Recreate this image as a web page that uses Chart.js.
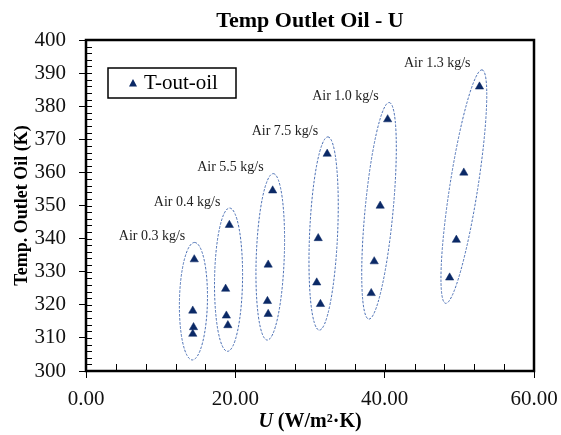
<!DOCTYPE html>
<html>
<head>
<meta charset="utf-8">
<script src="https://cdn.jsdelivr.net/npm/chart.js@4"></script>
<style>
  html, body { margin: 0; padding: 0; background: #fff; }
  #wrap { width: 561px; height: 435px; }
</style>
</head>
<body>
<div id="wrap"><canvas id="chart1"></canvas></div>
<script>
// air flow groups, as labelled in the figure
const groupLabels = ["Air 0.3 kg/s", "Air 0.4 kg/s", "Air 5.5 kg/s", "Air 7.5 kg/s", "Air 1.0 kg/s", "Air 1.3 kg/s"];
// overall heat transfer coefficient U (W/m2.K), one list per group
const uValues = [
  [14.5, 14.3, 14.4, 14.3],
  [19.2, 18.7, 18.8, 19.0],
  [25.0, 24.4, 24.3, 24.4],
  [32.3, 31.1, 30.9, 31.4],
  [40.4, 39.4, 38.6, 38.2],
  [52.7, 50.6, 49.6, 48.7]
];
// outlet oil temperature (K)
const tOutOil = [
  [333.7, 318.2, 313.2, 311.2],
  [344.1, 324.8, 316.7, 313.8],
  [354.5, 332.1, 321.1, 317.2],
  [365.6, 340.1, 326.7, 320.2],
  [376.0, 349.9, 333.1, 323.5],
  [385.9, 359.9, 339.6, 328.2]
];
const xTicks = [0, 20, 40, 60];
const yTicks = [300, 310, 320, 330, 340, 350, 360, 370, 380, 390, 400];

const serif = "'Liberation Serif', 'Times New Roman', serif";
const navy = "#0b2966";

const points = [];
uValues.forEach((us, g) => us.forEach((u, i) => points.push({ x: u, y: tOutOil[g][i] })));

// frame, inner minor ticks, ellipses, group labels, legend, x title
const decor = {
  id: "decor",
  afterDatasetsDraw(chart) {
    const { ctx, chartArea: a, scales: { x, y } } = chart;
    ctx.save();

    // ellipses round each air-flow group + their labels
    uValues.forEach((us, g) => {
      const pts = us.map((u, i) => ({ x: x.getPixelForValue(u), y: y.getPixelForValue(tOutOil[g][i]) }));
      const top = pts.reduce((p, q) => (q.y < p.y ? q : p));
      const bot = pts.reduce((p, q) => (q.y > p.y ? q : p));
      let dx = top.x - bot.x, dy = top.y - bot.y;
      const len = Math.hypot(dx, dy);
      dx /= len; dy /= len;
      const ax = top.x + dx * 17, ay = top.y + dy * 17;
      const bx = bot.x - dx * 26, by = bot.y - dy * 26;
      ctx.beginPath();
      ctx.setLineDash([2.5, 1.5]);
      ctx.strokeStyle = "#4a6fb5";
      ctx.lineWidth = 1;
      ctx.ellipse((ax + bx) / 2, (ay + by) / 2, Math.hypot(ax - bx, ay - by) / 2, 14, Math.atan2(ay - by, ax - bx), 0, Math.PI * 2);
      ctx.stroke();
      ctx.setLineDash([]);
      ctx.fillStyle = "#222";
      ctx.font = "14px " + serif;
      ctx.textAlign = "right";
      ctx.textBaseline = "middle";
      ctx.fillText(groupLabels[g], top.x - 9, top.y - 23);
    });

    // minor ticks pointing into the plot
    ctx.strokeStyle = "#000";
    ctx.lineWidth = 1;
    for (let v = 300; v <= 400; v += 2) {
      const py = Math.round(y.getPixelForValue(v)) + 0.5;
      ctx.beginPath(); ctx.moveTo(a.left, py); ctx.lineTo(a.left + 6, py); ctx.stroke();
    }
    for (let v = 0; v <= 60; v += 4) {
      const px = Math.round(x.getPixelForValue(v)) + 0.5;
      ctx.beginPath(); ctx.moveTo(px, a.bottom); ctx.lineTo(px, a.bottom - 7); ctx.stroke();
    }

    // plot frame
    ctx.lineWidth = 2.5;
    ctx.strokeRect(a.left, a.top, a.right - a.left, a.bottom - a.top);

    // legend box
    const lx = a.left + 22, ly = a.top + 28;
    ctx.lineWidth = 1.5;
    ctx.fillStyle = "#fff";
    ctx.fillRect(lx, ly, 128, 30);
    ctx.strokeRect(lx, ly, 128, 30);
    ctx.fillStyle = navy;
    ctx.beginPath();
    ctx.moveTo(lx + 25, ly + 11);
    ctx.lineTo(lx + 29, ly + 18.5);
    ctx.lineTo(lx + 21, ly + 18.5);
    ctx.closePath();
    ctx.fill();
    ctx.fillStyle = "#000";
    ctx.font = "21px " + serif;
    ctx.textAlign = "left";
    ctx.textBaseline = "middle";
    ctx.fillText(chart.data.datasets[0].label, lx + 36, ly + 15.5);

    // x axis title: italic U + bold units
    const cx = (a.left + a.right) / 2, ty = 422;
    const partA = "U", partB = " (W/m²·K)";
    ctx.font = "italic bold 20px " + serif;
    const wA = ctx.measureText(partA).width;
    ctx.font = "bold 20px " + serif;
    const wB = ctx.measureText(partB).width;
    const sx = cx - (wA + wB) / 2;
    ctx.font = "italic bold 20px " + serif;
    ctx.fillText(partA, sx, ty);
    ctx.font = "bold 20px " + serif;
    ctx.fillText(partB, sx + wA, ty);

    ctx.restore();
  }
};

const whiteBg = {
  id: "whiteBg",
  beforeDraw(chart) {
    const { ctx, width, height } = chart;
    ctx.save();
    ctx.fillStyle = "#fff";
    ctx.fillRect(0, 0, width, height);
    ctx.restore();
  }
};

const ctx1 = document.getElementById("chart1").getContext("2d");
new Chart(ctx1, {
  type: "scatter",
  data: {
    datasets: [
      {
        label: "T-out-oil",
        data: points,
        pointStyle: "triangle",
        pointRadius: 4.8,
        pointHoverRadius: 4.8,
        backgroundColor: navy,
        borderColor: navy,
        borderWidth: 0.5
      }
    ]
  },
  options: {
    responsive: true,
    maintainAspectRatio: false,
    animation: false,
    layout: { padding: { top: 0, right: 27, bottom: 0, left: 0 } },
    plugins: {
      legend: { display: false },
      tooltip: { enabled: false },
      title: {
        display: true,
        fullSize: false,
        text: "Temp Outlet Oil - U",
        color: "#000",
        font: { family: serif, size: 22, weight: "bold" },
        padding: { top: 8, bottom: 5.6 }
      }
    },
    scales: {
      x: {
        type: "linear",
        min: 0,
        max: 60,
        afterBuildTicks: (s) => { s.ticks = xTicks.map((v) => ({ value: v })); },
        afterFit: (s) => { s.height = 64; s.paddingLeft = 0; s.paddingRight = 0; },
        grid: { drawOnChartArea: false, drawTicks: true, tickLength: 7, color: "#000", lineWidth: 1 },
        border: { display: false },
        ticks: {
          color: "#111",
          font: { family: serif, size: 21 },
          padding: 9,
          maxRotation: 0,
          callback: (v) => v.toFixed(2)
        }
      },
      y: {
        type: "linear",
        min: 300,
        max: 400,
        afterBuildTicks: (s) => { s.ticks = yTicks.map((v) => ({ value: v })); },
        afterFit: (s) => { s.width = 86; s.paddingTop = 0; s.paddingBottom = 0; },
        grid: { drawOnChartArea: false, drawTicks: true, tickLength: 7, color: "#000", lineWidth: 1 },
        border: { display: false },
        ticks: {
          color: "#111",
          font: { family: serif, size: 21 },
          padding: 13
        },
        title: {
          display: true,
          text: "Temp. Outlet Oil (K)",
          color: "#000",
          font: { family: serif, size: 18, weight: "bold" },
          padding: { top: 12, bottom: 0 }
        }
      }
    }
  },
  plugins: [whiteBg, decor]
});
</script>
</body>
</html>
